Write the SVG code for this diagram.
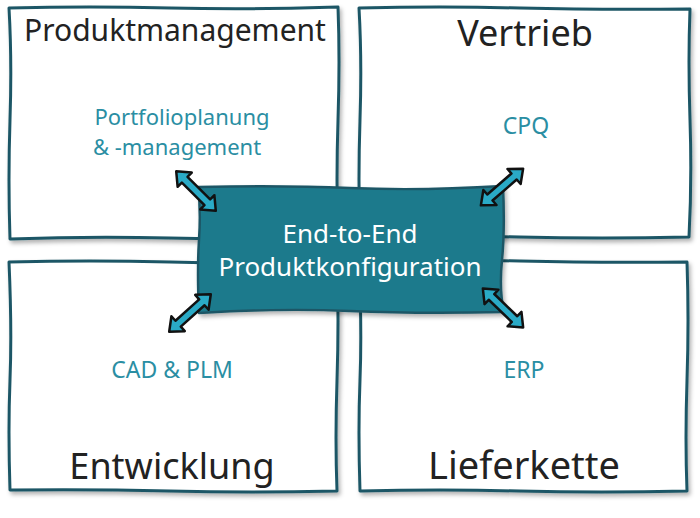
<svg xmlns="http://www.w3.org/2000/svg" width="700" height="518" viewBox="0 0 700 518">
<style>
.box{fill:#fff;stroke:#1d5766;stroke-width:3;stroke-linejoin:round;filter:url(#sh)}
.center{fill:#1e7a8c;stroke:#1d5766;stroke-width:2.5;stroke-linejoin:round;filter:url(#sh)}
.title{font-family:"Noto Sans","Open Sans",sans-serif;font-size:36px;fill:#222;text-anchor:middle}
.sub{font-family:"Noto Sans","Open Sans",sans-serif;font-size:22px;fill:#2a8ea3;text-anchor:middle}
.ctext{font-family:"Noto Sans","Open Sans",sans-serif;font-size:26px;fill:#fff;text-anchor:middle}
.arr{fill:#2aaac6;stroke:#111;stroke-width:2.5;stroke-linejoin:round}
</style>
<defs>
<filter id="sh" x="-10%" y="-10%" width="120%" height="125%">
<feDropShadow dx="2" dy="3" stdDeviation="2" flood-color="#000" flood-opacity="0.3"/>
</filter>
<polygon id="dbl" points="-28,0 -16,-10 -16,-4 16,-4 16,-10 28,0 16,10 16,4 -16,4 -16,10"/>
</defs>
<rect width="700" height="518" fill="#fff"/>
<g id="produktmanagement">
<path class="box" d="M9,8 Q90,6 170,8 T338,7 Q340,60 338,120 T338,238 Q250,240 170,238 T10,239 Q8,180 10,120 T9,8 Z"/>
<text class="title" x="175" y="41" style="font-size:30px">Produktmanagement</text>
<text class="sub" x="182" y="125">Portfolioplanung</text>
<text class="sub" x="177" y="155">&amp; -management</text>
</g>
<g id="vertrieb">
<path class="box" d="M359,8 Q440,6 520,8 T690,9 Q688,60 690,120 T689,237 Q600,239 520,237 T360,237 Q358,180 360,120 T359,8 Z"/>
<text class="title" x="525" y="46">Vertrieb</text>
<text class="sub" x="526" y="134" style="font-size:23px">CPQ</text>
</g>
<g id="entwicklung">
<path class="box" d="M9,262 Q90,260 170,262 T337,263 Q339,320 337,380 T337,491 Q250,493 170,491 T10,490 Q8,430 10,380 T9,262 Z"/>
<text class="title" x="172" y="479">Entwicklung</text>
<text class="sub" x="172" y="378" style="font-size:23px">CAD &amp; PLM</text>
</g>
<g id="lieferkette">
<path class="box" d="M359,261 Q440,259 520,261 T687,262 Q689,320 687,380 T687,491 Q600,493 520,491 T360,491 Q358,430 360,380 T359,261 Z"/>
<text class="title" x="524" y="479" style="font-size:38px">Lieferkette</text>
<text class="sub" x="524" y="378" style="font-size:23px">ERP</text>
</g>
<g id="konfiguration">
<path class="center" d="M198,187 Q280,185 350,188 T503,186 Q505,230 502,260 T504,312 Q420,314 350,311 T199,313 Q197,270 199,240 T198,187 Z"/>
<text class="ctext" x="350" y="243">End-to-End</text>
<text class="ctext" x="350" y="276">Produktkonfiguration</text>
</g>
<g id="connectors">
<use href="#dbl" class="arr" transform="translate(196,191) rotate(45)"/>
<use href="#dbl" class="arr" transform="translate(502,187) rotate(-41)"/>
<use href="#dbl" class="arr" transform="translate(190,313) rotate(-42)"/>
<use href="#dbl" class="arr" transform="translate(503,308) rotate(44)"/>
</g>
</svg>
